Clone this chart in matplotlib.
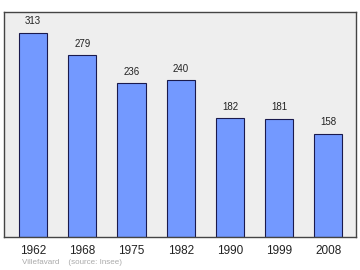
import matplotlib
matplotlib.use("Agg")
import matplotlib.pyplot as plt

plt.rcParams["font.family"] = ["Liberation Sans", "DejaVu Sans"]

years = ["1962", "1968", "1975", "1982", "1990", "1999", "2008"]
population = [313, 279, 236, 240, 182, 181, 158]

fig = plt.figure(figsize=(3.6, 2.7), dpi=100)
ax = fig.add_axes([4 / 360, 33 / 270, 352 / 360, 225 / 270])
ax.set_facecolor("#eeeeee")

x = range(len(years))
ax.bar(x, population, width=0.57, color="#7399ff", edgecolor="#1a1a4d", linewidth=0.8)

for xi, v in zip(x, population):
    ax.text(xi, v + 10, str(v), ha="center", va="bottom", fontsize=7, color="#222222")

ax.set_xlim(-0.59, 6.56)
ax.set_ylim(0, 345)
ax.set_yticks([])
ax.set_xticks(list(x))
ax.set_xticklabels(years, fontsize=8.5, color="#222222")
ax.tick_params(axis="x", length=0, pad=6)
for s in ax.spines.values():
    s.set_color("#444444")
    s.set_linewidth(1)

fig.text(22 / 360, 1 - 263 / 270, "Villefavard    (source: Insee)", fontsize=5.8,
         color="#aaaaaa", va="center", ha="left")

fig.savefig("out.png", dpi=100)
